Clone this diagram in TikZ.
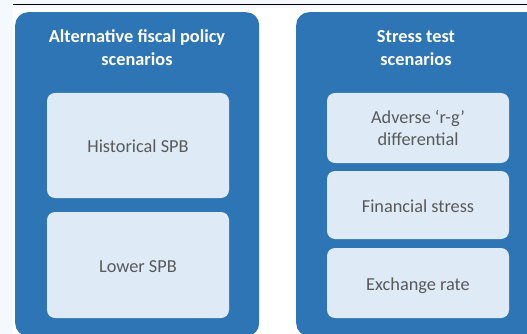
\documentclass[tikz,border=0pt]{standalone}
\usepackage{fontspec}
\setmainfont{Carlito}
\definecolor{bgblue}{HTML}{F4F9FD}
\definecolor{panelblue}{HTML}{2E75B6}
\definecolor{innerblue}{HTML}{DEEBF7}
\definecolor{txtgray}{HTML}{595959}
\begin{document}
\begin{tikzpicture}[x=1pt,y=-1pt,
  panelbox/.style={fill=panelblue, draw=none, rounded corners=13pt, inner sep=0pt, anchor=north west},
  itembox/.style={fill=innerblue, draw=none, rounded corners=8pt, inner sep=0pt, text=txtgray,
    font=\fontsize{18.3}{22}\selectfont, align=center, minimum width=182pt},
  oneline/.style={text height=15pt, text depth=0pt},
  titletext/.style={text=white, font=\bfseries\fontsize{18.3}{23}\selectfont, align=center, inner sep=0pt}]
\clip (0,0) rectangle (527,334);
\useasboundingbox (0,0) rectangle (527,334);
\fill[bgblue] (0,0) rectangle (527,334);
\fill[white] (13,8) rectangle (527,334);
\draw[black, line width=1pt] (13,5) -- (527,5);
% panels
\node[panelbox, minimum width=244pt, minimum height=324pt] (leftpanel) at (15,12) {};
\node[panelbox, minimum width=244pt, minimum height=324pt] (rightpanel) at (296,12) {};
% titles
\node[titletext] (lefttitle) at (137,48) {Alternative fiscal policy\\scenarios};
\node[titletext] (righttitle) at (416,48) {Stress test\\scenarios};
% left items
\node[itembox, oneline, minimum height=105pt] (hist) at (138,145.5) {Historical SPB};
\node[itembox, oneline, minimum height=106pt] (lower) at (138,265) {Lower SPB};
% right items
\node[itembox, minimum height=70pt] (adverse) at (418,128) {Adverse ‘r-g’\\differential};
\node[itembox, oneline, minimum height=68pt] (financial) at (418,205) {Financial stress};
\node[itembox, oneline, minimum height=70pt] (exchange) at (418,283) {Exchange rate};
\end{tikzpicture}
\end{document}
